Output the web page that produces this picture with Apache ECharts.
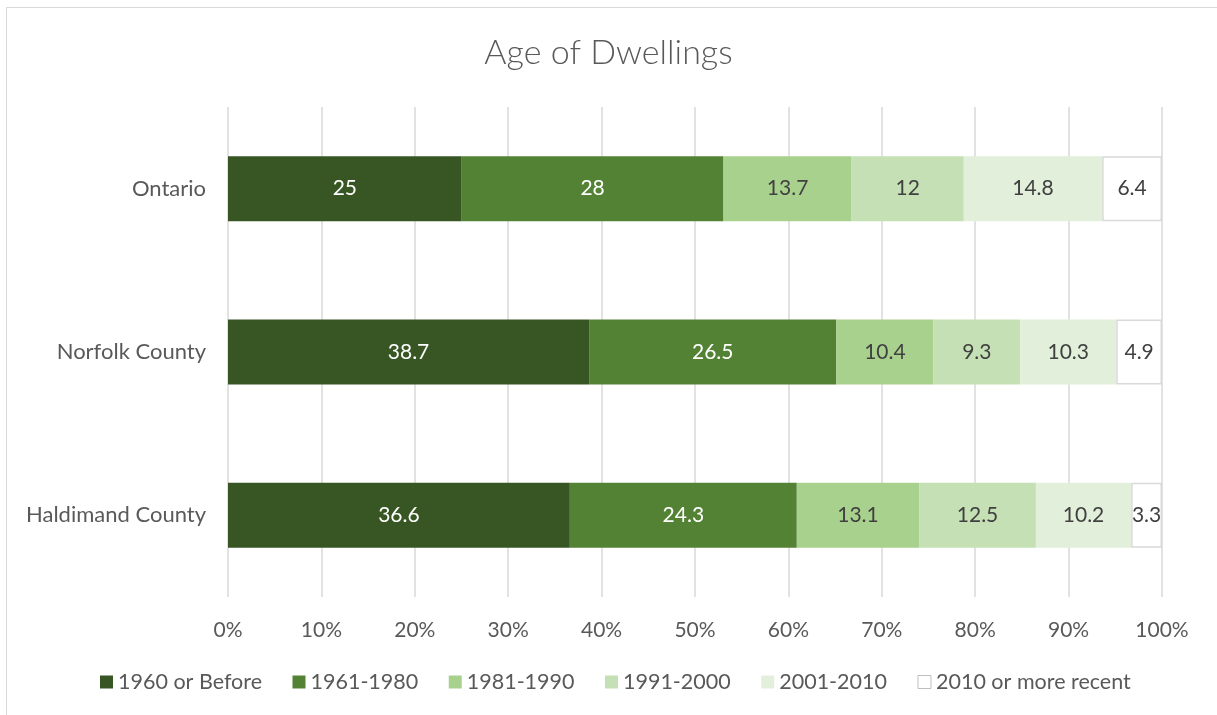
<!DOCTYPE html>
<html>
<head>
<meta charset="utf-8">
<script src="https://cdn.jsdelivr.net/npm/echarts@6/dist/echarts.min.js"></script>
<style>
  html, body { margin: 0; padding: 0; background: #fff; }
  #frame { position: absolute; left: 6px; top: 7px; width: 1230px; height: 730px;
           border-left: 1.5px solid #d9d9d9; border-top: 1.5px solid #d9d9d9; box-sizing: border-box; }
  #chart { position: absolute; left: 0; top: 0; width: 1217px; height: 715px; }
</style>
</head>
<body>
<div id="frame"></div>
<div id="chart"></div>
<script>
// Regions, top to bottom
const regions = ['Ontario', 'Norfolk County', 'Haldimand County'];

// Share of dwellings (%) by period of construction
const before1960 = [25, 38.7, 36.6];
const p1961_1980 = [28, 26.5, 24.3];
const p1981_1990 = [13.7, 10.4, 13.1];
const p1991_2000 = [12, 9.3, 12.5];
const p2001_2010 = [14.8, 10.3, 10.2];
const after2010 = [6.4, 4.9, 3.3];

const seriesNames = ['1960 or Before', '1961-1980', '1981-1990', '1991-2000', '2001-2010', '2010 or more recent'];
const seriesValues = [before1960, p1961_1980, p1981_1990, p1991_2000, p2001_2010, after2010];
const fills = ['#375623', '#548235', '#A9D18E', '#C5E0B4', '#E2EFDA', '#FFFFFF'];
const labelColors = ['#FFFFFF', '#FFFFFF', '#404040', '#404040', '#404040', '#404040'];

const tickLabels = ['0%', '10%', '20%', '30%', '40%', '50%', '60%', '70%', '80%', '90%', '100%'];

// Each bar is scaled to its row total (100% stacked)
const totals = regions.map((_, i) => seriesValues.reduce((s, arr) => s + arr[i], 0));

const FONT = 'Lato, Open Sans, sans-serif';

const series = seriesNames.map((name, k) => ({
  name,
  type: 'bar',
  stack: 'all',
  barWidth: 65,
  data: seriesValues[k].map((v, i) => ({ value: v / totals[i] * 100, raw: v })),
  itemStyle: k === 5
    ? { color: fills[k], borderColor: '#D9D9D9', borderWidth: 1.5 }
    : { color: fills[k] },
  label: {
    show: true,
    position: 'inside',
    color: labelColors[k],
    fontFamily: FONT,
    fontSize: 21,
    formatter: p => String(p.data.raw)
  },
  emphasis: { disabled: true }
}));

const chart = echarts.init(document.getElementById('chart'), null, { renderer: 'canvas' });
chart.setOption({
  animation: false,
  backgroundColor: 'transparent',
  title: {
    text: 'Age of Dwellings',
    left: 'center',
    top: 31,
    textStyle: { fontFamily: FONT, fontSize: 34, fontWeight: 300, color: '#595959' }
  },
  legend: {
    bottom: 17,
    left: 95,
    itemWidth: 13,
    itemHeight: 13,
    itemGap: 30.5,
    itemTextGap: 6,
    icon: 'rect',
    textStyle: { fontFamily: FONT, fontSize: 21.5, color: '#595959' },
    data: seriesNames.map((n, k) => ({
      name: n,
      itemStyle: k === 5 ? { color: '#fff', borderColor: '#BFBFBF', borderWidth: 1 } : { color: fills[k] }
    }))
  },
  grid: { left: 228, right: 55, top: 107, bottom: 118, containLabel: false },
  xAxis: {
    type: 'value',
    min: 0,
    max: 100,
    interval: 10,
    axisLine: { show: false },
    axisTick: { show: false },
    splitLine: { show: true, lineStyle: { color: '#D9D9D9', width: 1.5 } },
    axisLabel: {
      margin: 23,
      fontFamily: FONT,
      fontSize: 21,
      color: '#595959',
      formatter: v => tickLabels[Math.round(v / 10)]
    }
  },
  yAxis: {
    type: 'category',
    data: regions,
    inverse: true,
    axisLine: { show: false },
    axisTick: { show: false },
    axisLabel: { margin: 22, fontFamily: FONT, fontSize: 22, color: '#595959' }
  },
  series
});
</script>
</body>
</html>
